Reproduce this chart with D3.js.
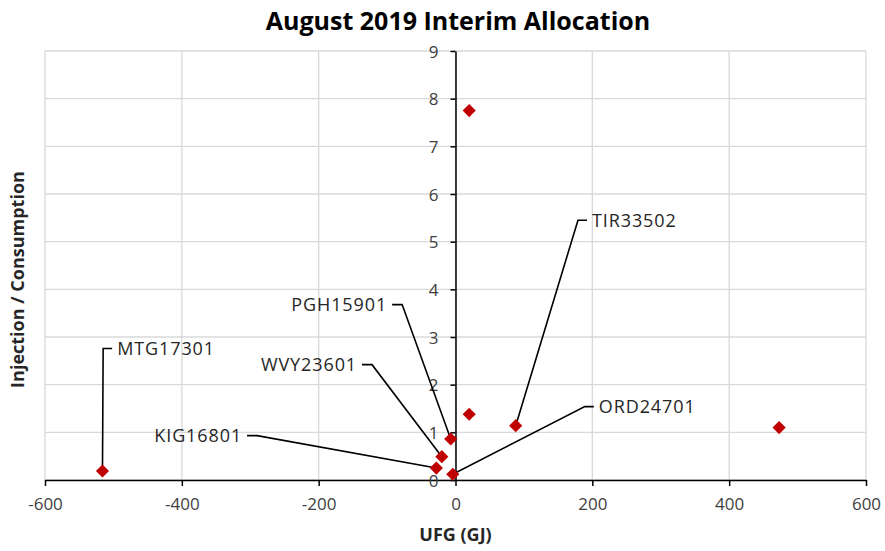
<!DOCTYPE html>
<meta charset="utf-8">
<script src="https://d3js.org/d3.v7.min.js"></script>
<style>
  body { margin: 0; background: #fff; }
  text { font-family: "Open Sans", Lato, sans-serif; }
</style>
<div id="chart"></div>
<script>

// data
var ufg = [473, 20, 20, 88, -516, -28, -20, -7, -4];
var ratio = [1.10, 7.75, 1.38, 1.14, 0.19, 0.25, 0.49, 0.86, 0.12];

// labelled points: index into the arrays above, elbow of the leader in data units
var labelNames = ["MTG17301", "KIG16801", "WVY23601", "PGH15901", "TIR33502", "ORD24701"];
var labelPoint = [4, 5, 6, 7, 3, 8];
var labelElbowX = [-515, -290, -122, -78, 179, 189];
var labelElbowY = [2.76, 0.93, 2.42, 3.68, 5.45, 1.54];
var labelSide = ["right", "left", "left", "left", "right", "right"];

var xTicks = [-600, -400, -200, 0, 200, 400, 600];
var yTicks = [0, 1, 2, 3, 4, 5, 6, 7, 8, 9];

var W = 885, H = 551;
var margin = {top: 51, right: 19, bottom: 71, left: 45};
var width = W - margin.left - margin.right,
    height = H - margin.top - margin.bottom;

var svg = d3.select("#chart").append("svg")
    .attr("width", W)
    .attr("height", H);

svg.append("text")
    .attr("x", 458)
    .attr("y", 30)
    .attr("text-anchor", "middle")
    .style("font-size", "25px")
    .style("font-weight", "bold")
    .style("fill", "#000")
    .text("August 2019 Interim Allocation");

var g = svg.append("g")
    .attr("transform", "translate(" + margin.left + "," + margin.top + ")");

var x = d3.scaleLinear().domain([-600, 600]).range([0, width]);
var y = d3.scaleLinear().domain([0, 9]).range([height, 0]);

// gridlines
g.append("g")
  .selectAll("line")
  .data(xTicks)
  .enter().append("line")
    .attr("x1", function(d) { return x(d); })
    .attr("x2", function(d) { return x(d); })
    .attr("y1", 0)
    .attr("y2", height)
    .style("stroke", "#d9d9d9")
    .style("stroke-width", 1.3);

g.append("g")
  .selectAll("line")
  .data(yTicks)
  .enter().append("line")
    .attr("x1", 0)
    .attr("x2", width)
    .attr("y1", function(d) { return y(d); })
    .attr("y2", function(d) { return y(d); })
    .style("stroke", "#d9d9d9")
    .style("stroke-width", 1.3);

// x axis through y = 0
var xAxis = g.append("g")
    .attr("transform", "translate(0," + y(0) + ")")
    .call(d3.axisBottom(x).tickValues(xTicks).tickFormat(function(d) { return String(d); })
      .tickSize(6).tickPadding(12).tickSizeOuter(0));

// y axis through x = 0
var yAxis = g.append("g")
    .attr("transform", "translate(" + x(0) + ",0)")
    .call(d3.axisLeft(y).tickValues(yTicks).tickFormat(function(d) { return String(d); })
      .tickSize(5).tickPadding(12).tickSizeOuter(0));

[xAxis, yAxis].forEach(function(a) {
  a.select(".domain").style("stroke", "#000").style("stroke-width", 1.5);
  a.selectAll(".tick line").style("stroke", "#000").style("stroke-width", 1.5);
  a.selectAll(".tick text")
    .style("font-family", "'Open Sans', Lato, sans-serif")
    .style("font-size", "17px")
    .style("fill", "#404040");
});
yAxis.selectAll(".tick text").attr("dy", "0.36em");

// leader lines
labelNames.forEach(function(name, i) {
  var p = labelPoint[i];
  var ex = x(labelElbowX[i]), ey = y(labelElbowY[i]);
  var dir = labelSide[i] === "right" ? 1 : -1;
  var stub = labelSide[i] === "right" ? 9 : -10;
  g.append("path")
    .attr("d", "M" + x(ufg[p]) + "," + y(ratio[p]) +
               "L" + ex + "," + ey +
               "L" + (ex + stub) + "," + ey)
    .style("fill", "none")
    .style("stroke", "#000")
    .style("stroke-width", 1.6);
  g.append("text")
    .attr("x", ex + stub + dir * 5)
    .attr("y", ey)
    .attr("dy", "0.36em")
    .attr("text-anchor", dir > 0 ? "start" : "end")
    .style("font-size", "18px")
    .style("letter-spacing", "0.9px")
    .style("fill", "#262626")
    .text(name);
});

// points
g.append("g")
  .selectAll("path")
  .data(ufg)
  .enter().append("path")
    .attr("d", d3.symbol().type(d3.symbolDiamond2).size(110))
    .attr("transform", function(d, i) { return "translate(" + x(d) + "," + y(ratio[i]) + ")"; })
    .style("fill", "#c00000");

// axis titles
svg.append("text")
    .attr("x", margin.left + x(0))
    .attr("y", 541)
    .attr("text-anchor", "middle")
    .style("font-size", "18px")
    .style("font-weight", "bold")
    .style("fill", "#262626")
    .text("UFG (GJ)");

svg.append("text")
    .attr("transform", "translate(24," + (margin.top + height / 2 + 14) + ") rotate(-90)")
    .attr("text-anchor", "middle")
    .style("font-size", "18px")
    .style("font-weight", "bold")
    .style("fill", "#262626")
    .text("Injection / Consumption");

</script>
